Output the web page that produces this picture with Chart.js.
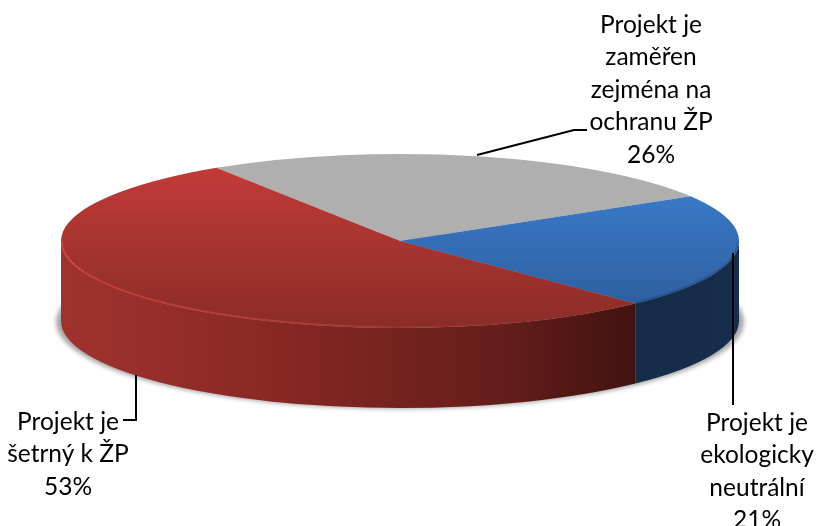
<!DOCTYPE html>
<html>
<head>
<meta charset="utf-8">
<title>Projekt a ŽP</title>
<script src="https://cdn.jsdelivr.net/npm/chart.js@4"></script>
<style>
    html, body { margin: 0; background: #fff; }
    canvas { display: block; }
</style>
</head>
<body>
<canvas id="pieChart" width="816" height="526"></canvas>
<script>
// data
let categories = ["Projekt je\nzaměřen\nzejména na\nochranu ŽP", "Projekt je\nekologicky\nneutrální", "Projekt je\nšetrný k ŽP"];
let values = [25.5, 21.4, 53.1];
let baseColors = ["#afafaf", "#3672bc", "#bd3936"];

let radiusX = 339;
let radiusY = 87;
let depth = 80;

// top of the slices, light at the back and darker to the front
function topFill(c) {
    let area = c.chart.chartArea;
    if (!area || c.dataIndex === undefined) return baseColors[c.dataIndex] || "#999";
    if (c.dataIndex === 0) return baseColors[0];
    let cy = (area.top + area.bottom) / 2;
    let g = c.chart.ctx.createLinearGradient(0, cy - radiusX, 0, cy + radiusX);
    if (c.dataIndex === 1) {
        g.addColorStop(0.25, "#3a78c6");
        g.addColorStop(1, "#2b5a97");
    } else {
        g.addColorStop(0, "#c63c39");
        g.addColorStop(1, "#8a2c28");
    }
    return g;
}

function wallFill(ctx, index, cx) {
    let g = ctx.createLinearGradient(cx - radiusX, 0, cx + radiusX, 0);
    if (index === 1) {
        g.addColorStop(0, "#12283f");
        g.addColorStop(1, "#162d4b");
    } else {
        g.addColorStop(0, "#a0322e");
        g.addColorStop(0.12, "#982f2c");
        g.addColorStop(0.35, "#842623");
        g.addColorStop(0.65, "#651e1a");
        g.addColorStop(0.85, "#40120f");
    }
    return g;
}

let pie3d = {
    id: "pie3d",
    beforeDatasetsDraw(chart) {
        let ctx = chart.ctx;
        let arcs = chart.getDatasetMeta(0).data;
        let cx = arcs[0].x, cy = arcs[0].y;

        // soft shadow under the disc
        ctx.save();
        ctx.filter = "blur(2px)";
        ctx.fillStyle = "#a8a8a8";
        ctx.beginPath();
        ctx.ellipse(cx, cy + depth + 1, radiusX + 5, radiusY, 0, 0, Math.PI * 2);
        ctx.fill();
        ctx.restore();

        // side wall, only the front half shows
        arcs.forEach((arc, i) => {
            let a = Math.max(arc.startAngle, 0);
            let b = Math.min(arc.endAngle, Math.PI);
            if (b <= a) return;
            ctx.beginPath();
            ctx.ellipse(cx, cy, radiusX, radiusY, 0, a, b);
            ctx.ellipse(cx, cy + depth, radiusX, radiusY, 0, b, a, true);
            ctx.closePath();
            ctx.fillStyle = wallFill(ctx, i, cx);
            ctx.fill();
        });

        ctx.save();
        ctx.translate(cx, cy);
        ctx.scale(1, radiusY / radiusX);
        ctx.translate(-cx, -cy);
    },
    afterDatasetsDraw(chart) {
        let ctx = chart.ctx;
        ctx.restore();
        let arcs = chart.getDatasetMeta(0).data;
        let cx = arcs[0].x, cy = arcs[0].y;

        // bevel along the front rim, fades out towards the right on the red slice
        let redRim = ctx.createLinearGradient(cx - radiusX, 0, cx + radiusX, 0);
        redRim.addColorStop(0, "rgba(214,62,58,0.85)");
        redRim.addColorStop(0.4, "rgba(205,70,66,0.5)");
        redRim.addColorStop(0.7, "rgba(160,50,46,0.15)");
        redRim.addColorStop(0.85, "rgba(160,50,46,0)");
        let rims = [null, "rgba(30,60,105,0.45)", redRim];
        arcs.forEach((arc, i) => {
            let a = Math.max(arc.startAngle, 0);
            let b = Math.min(arc.endAngle, Math.PI);
            if (b <= a || !rims[i]) return;
            ctx.beginPath();
            ctx.ellipse(cx, cy, radiusX - 1, radiusY - 1, 0, a, b);
            ctx.strokeStyle = rims[i];
            ctx.lineWidth = 1.5;
            ctx.stroke();
        });

        // leader lines
        ctx.strokeStyle = "#000";
        ctx.lineWidth = 2;
        ctx.lineJoin = "miter";
        [
            [[477, 155], [574, 130], [587, 130]],
            [[733, 253], [733, 405]],
            [[136, 375], [136, 420], [123, 420]]
        ].forEach(line => {
            ctx.beginPath();
            line.forEach((p, i) => i ? ctx.lineTo(p[0], p[1]) : ctx.moveTo(p[0], p[1]));
            ctx.stroke();
        });

        // labels
        let spots = [[651, 25], [757, 423], [68, 422]];
        ctx.fillStyle = "#000";
        ctx.font = "24.5px Lato";
        ctx.textAlign = "center";
        ctx.textBaseline = "middle";
        categories.forEach((name, i) => {
            let lines = name.split("\n").concat(Math.round(values[i]) + "%");
            lines.forEach((t, j) => ctx.fillText(t, spots[i][0], spots[i][1] + j * 32.5));
        });
    }
};

new Chart(document.getElementById("pieChart").getContext("2d"), {
    type: "pie",
    data: {
        labels: categories,
        datasets: [{
            data: values,
            backgroundColor: topFill,
            borderWidth: 0,
            clip: false
        }]
    },
    options: {
        responsive: false,
        animation: false,
        radius: radiusX,
        rotation: -32.8,
        layout: { padding: { left: 0, right: 16, top: 0, bottom: 44 } },
        plugins: { legend: { display: false }, tooltip: { enabled: false } }
    },
    plugins: [pie3d]
});
</script>
</body>
</html>
